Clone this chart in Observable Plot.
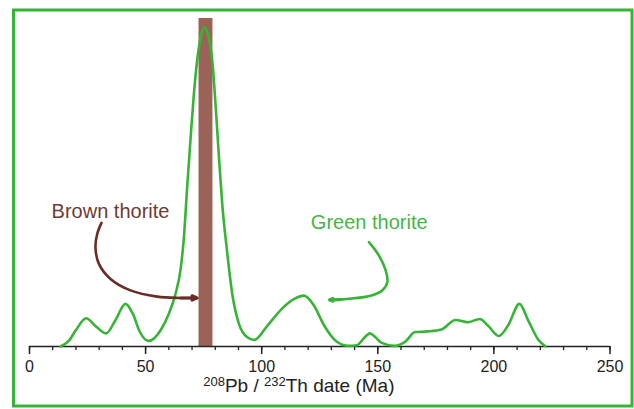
<!DOCTYPE html>
<html>
<head>
<meta charset="utf-8">
<script src="https://cdn.jsdelivr.net/npm/d3@7"></script>
<script src="https://cdn.jsdelivr.net/npm/@observablehq/plot@0.6"></script>
<style>
  html, body { margin: 0; padding: 0; background: #ffffff; }
  svg { display: block; }
</style>
</head>
<body>
<div id="chart"></div>
<script>
// ---- data ----
// probability-density curve of 208Pb/232Th dates (relative height, peak ~ 1)
const ages = [13.3, 17, 20, 24.4, 28.5, 33, 37, 41.3, 44.5, 47.5, 51.3, 56.4, 60.0, 62.9, 65.0, 66.5, 67.9, 69.4, 70.8, 72.2, 73.7, 75.4, 77.2, 78.7, 80.1, 81.5, 83.0, 85.2, 87.3, 90.2, 93.8, 96.8, 102.5, 109.4, 114, 118.2, 122.5, 126.9, 132.1, 137.3, 141, 144, 146.6, 149, 151.5, 157.3, 161.7, 166.1, 171.3, 177.4, 183.5, 188.7, 193.9, 197.4, 202.1, 206.1, 211, 214.8, 219.2, 222.3];
const density = [0, 0.018, 0.05, 0.086, 0.062, 0.04, 0.08, 0.13, 0.1, 0.045, 0.017, 0.049, 0.10, 0.161, 0.232, 0.333, 0.486, 0.638, 0.77, 0.872, 0.943, 0.973, 0.943, 0.872, 0.74, 0.587, 0.435, 0.283, 0.161, 0.069, 0.028, 0.02, 0.064, 0.12, 0.145, 0.155, 0.125, 0.064, 0.016, 0.002, 0.004, 0.025, 0.04, 0.028, 0.012, 0.002, 0.014, 0.044, 0.046, 0.052, 0.081, 0.074, 0.084, 0.064, 0.032, 0.064, 0.13, 0.079, 0.02, 0];

// brown thorite age band
const brownBandAges = [73, 79];
const brownBandTop = [1];

// axis ticks
const majorTicks = [0, 50, 100, 150, 200, 250];
const minorTicks = [0, 10, 20, 30, 40, 50, 60, 70, 80, 90, 100, 110, 120, 130, 140, 150, 160, 170, 180, 190, 200, 210, 220, 230, 240, 250];
const titleParts = ["208", "Pb / ", "232", "Th date (Ma)"];
const titleSup = [true, false, true, false];

// annotation labels
const labelNames = ["Brown thorite", "Green thorite"];
const labelAges = [34.9, 146.3];
const labelHeights = [0.412, 0.378];

// annotation arrows (path points in age / relative height)
const brownArrowAges = [31.0, 29.2, 28.4, 29.9, 34.9, 43.5, 55.0, 65.0, 72.2];
const brownArrowHeights = [0.377, 0.344, 0.303, 0.252, 0.206, 0.171, 0.152, 0.148, 0.148];
const greenArrowAges = [146.2, 150.5, 153.4, 154.1, 151.9, 146.9, 139.7, 134.0, 129.2];
const greenArrowHeights = [0.318, 0.277, 0.232, 0.196, 0.171, 0.155, 0.147, 0.143, 0.142];

// ---- build tables ----
const curve = ages.map((a, i) => ({age: a, d: density[i]}));
const band = [{x1: brownBandAges[0], x2: brownBandAges[1], y: brownBandTop[0]}];
const labels = labelNames.map((t, i) => ({text: t, age: labelAges[i], h: labelHeights[i]}));
const brownPath = brownArrowAges.map((a, i) => ({age: a, h: brownArrowHeights[i]}));
const greenPath = greenArrowAges.map((a, i) => ({age: a, h: greenArrowHeights[i]}));
const headOf = (p) => [{x1: p[p.length - 2].age, y1: p[p.length - 2].h, x2: p[p.length - 1].age, y2: p[p.length - 1].h}];

const FONT = "'Liberation Sans', Arial, Helvetica, sans-serif";
const GREEN = "#37b437";
const BROWN_TXT = "#6e3a33";
const BROWN_ARR = "#6a2c25";
const titleString = titleParts.join("");

const svg = Plot.plot({
  width: 634,
  height: 409,
  marginLeft: 29,
  marginRight: 24.5,
  marginTop: 18,
  marginBottom: 63,
  style: {background: "#ffffff", fontFamily: FONT, overflow: "visible"},
  x: {domain: [0, 250], axis: null},
  y: {domain: [0, 1], axis: null},
  marks: [
    Plot.frame({stroke: GREEN, strokeWidth: 3, insetLeft: -16, insetRight: -22, insetTop: -8.5, insetBottom: -59.5}),
    Plot.rectY(band, {x1: "x1", x2: "x2", y: "y", fill: "#9b6258"}),
    Plot.axisX({ticks: minorTicks, tickSize: 4, tickFormat: () => "", label: null, stroke: "#222", strokeWidth: 1.3}),
    Plot.axisX({ticks: majorTicks, tickSize: 8, tickPadding: 6, fontSize: 16, label: null, stroke: "#222", fill: "#222", strokeWidth: 1.5}),
    Plot.ruleY([0], {stroke: "#222", strokeWidth: 1.5}),
    Plot.line(curve, {x: "age", y: "d", stroke: GREEN, strokeWidth: 2.6, curve: "monotone-x"}),
    Plot.line(brownPath, {x: "age", y: "h", stroke: BROWN_ARR, strokeWidth: 2.6, curve: "catmull-rom"}),
    Plot.arrow(headOf(brownPath), {x1: "x1", y1: "y1", x2: "x2", y2: "y2", stroke: BROWN_ARR, strokeWidth: 3, headLength: 7, headAngle: 48}),
    Plot.line(greenPath, {x: "age", y: "h", stroke: GREEN, strokeWidth: 2.6, curve: "catmull-rom"}),
    Plot.arrow(headOf(greenPath), {x1: "x1", y1: "y1", x2: "x2", y2: "y2", stroke: GREEN, strokeWidth: 3, headLength: 7, headAngle: 48}),
    Plot.text(labels.slice(0, 1), {x: "age", y: "h", text: "text", fill: BROWN_TXT, fontSize: 20, fontFamily: FONT}),
    Plot.text(labels.slice(1), {x: "age", y: "h", text: "text", fill: "#46b646", fontSize: 20, fontFamily: FONT}),
    Plot.text([titleString], {x: () => 116.0, y: () => -0.12, text: d => d, fill: "#222", fontSize: 19, fontFamily: FONT})
  ]
});

// turn the axis title into real superscripts
d3.select(svg).selectAll("text").filter(function () { return this.textContent === titleString; }).each(function () {
  const t = d3.select(this);
  t.text(null);
  let shift = 0;
  titleParts.forEach((part, i) => {
    const target = titleSup[i] ? -6 : 0;
    t.append("tspan").attr("dy", target - shift).attr("font-size", titleSup[i] ? 13 : 19).text(part);
    shift = target;
  });
});

document.getElementById("chart").appendChild(svg);
</script>
</body>
</html>
